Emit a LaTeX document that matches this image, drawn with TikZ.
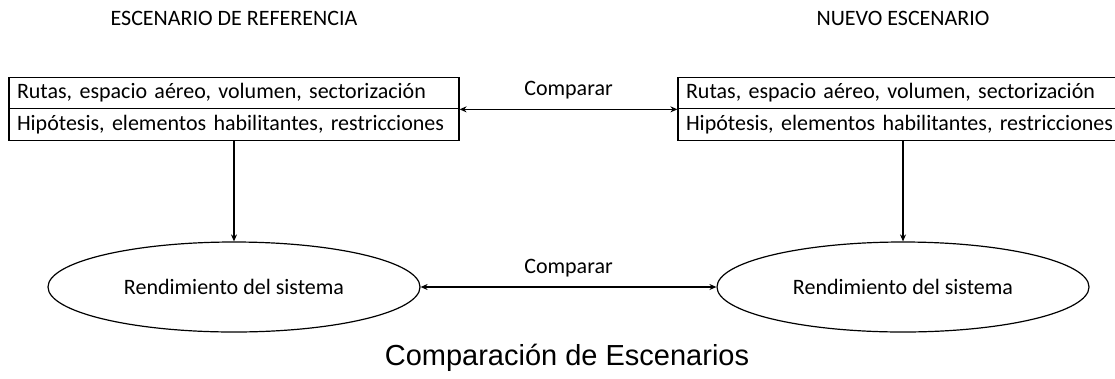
\documentclass[tikz,border=0pt]{standalone}
\usepackage{fontspec}
\setmainfont{Carlito}
\newfontfamily\titlefont{Liberation Sans}
\usetikzlibrary{positioning, shapes.geometric, arrows.meta}

\begin{document}
\begin{tikzpicture}[x=1pt, y=-1pt, line width=1.2pt, ->, >={Stealth[length=7pt,width=6pt]}, on grid, auto,
  fila/.style={draw, -, text width=434pt, minimum height=31.5pt, inner xsep=8pt, inner ysep=0pt, align=left, font=\fontsize{22}{24}\selectfont},
  elipse/.style={draw, -, ellipse, minimum width=372pt, minimum height=90pt, font=\fontsize{22}{24}\selectfont},
  cabecera/.style={font=\fontsize{22}{24}\selectfont},
  etiqueta/.style={font=\fontsize{22}{24}\selectfont, above=6pt}]
\useasboundingbox (0,0) rectangle (1115,378);

\node[fila] (ref1) at (234,93) {Rutas, espacio aéreo, volumen, sectorización};
\node[fila, below=31.5pt of ref1] (ref2) {Hipótesis, elementos habilitantes, restricciones};
\node[fila, right=669pt of ref1] (nue1) {Rutas, espacio aéreo, volumen, sectorización};
\node[fila, right=669pt of ref2] (nue2) {Hipótesis, elementos habilitantes, restricciones};

\node[elipse, below=162.5pt of ref2] (refR) {Rendimiento del sistema};
\node[elipse, below=162.5pt of nue2] (nueR) {Rendimiento del sistema};

\node[cabecera, above=75pt of ref1] (refH) {ESCENARIO DE REFERENCIA};
\node[cabecera, above=75pt of nue1] (nueH) {NUEVO ESCENARIO};

% Arrows down to performance
\foreach \s in {ref,nue} {
	\path (\s2) edge (\s R);
}
% Comparisons
\draw[<->] (ref1.south east) -- node[etiqueta] {Comparar} (nue1.south west);
\draw[<->] (refR) -- node[etiqueta] {Comparar} (nueR);

\node[font=\titlefont\fontsize{29}{32}\selectfont] (titulo) at (567,358) {Comparación de Escenarios};
\end{tikzpicture}
\end{document}
